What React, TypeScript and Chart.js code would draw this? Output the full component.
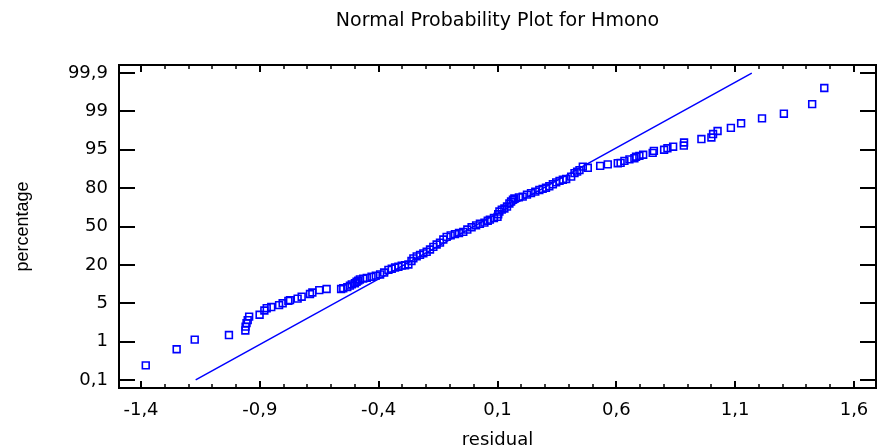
import React, { useEffect, useRef } from 'react';
import { Chart, registerables } from 'chart.js';

Chart.register(...registerables);

const TITLE = 'Normal Probability Plot for Hmono';
const X_LABEL = 'residual';
const Y_LABEL = 'percentage';

const X_TICKS = [-1.4, -0.9, -0.4, 0.1, 0.6, 1.1, 1.6];
const X_MIN = -1.4926;
const X_MAX = 1.6926;

// probability axis: evenly spaced labelled positions 0..8
const Y_TICK_LABELS = ['0,1', '1', '5', '20', '50', '80', '95', '99', '99,9'];
const Y_MIN = -0.21;
const Y_MAX = 8.21;

const RESIDUALS = [
  -1.380, -1.250, -1.174, -1.030, -0.961, -0.960, -0.956, -0.951, -0.945, -0.901,
  -0.881, -0.871, -0.852, -0.819, -0.804, -0.780, -0.773, -0.741, -0.724, -0.689,
  -0.679, -0.650, -0.619, -0.558, -0.549, -0.532, -0.521, -0.513, -0.500, -0.493,
  -0.486, -0.479, -0.465, -0.450, -0.430, -0.412, -0.394, -0.377, -0.359, -0.345,
  -0.331, -0.317, -0.303, -0.289, -0.275, -0.262, -0.254, -0.240, -0.226, -0.212,
  -0.198, -0.184, -0.170, -0.156, -0.142, -0.128, -0.114, -0.097, -0.079, -0.062,
  -0.044, -0.027, -0.009, 0.010, 0.026, 0.045, 0.059, 0.068, 0.085, 0.100,
  0.103, 0.108, 0.118, 0.129, 0.140, 0.150, 0.157, 0.165, 0.171, 0.190,
  0.206, 0.224, 0.241, 0.259, 0.276, 0.290, 0.304, 0.318, 0.333, 0.347,
  0.361, 0.375, 0.389, 0.410, 0.424, 0.435, 0.445, 0.459, 0.480, 0.532,
  0.564, 0.606, 0.618, 0.634, 0.655, 0.676, 0.683, 0.697, 0.713, 0.753,
  0.758, 0.801, 0.815, 0.839, 0.884, 0.885, 0.958, 1.000, 1.007, 1.026,
  1.082, 1.125, 1.213, 1.305, 1.424, 1.475,
];

const PROB_POS = [
  0.38, 0.80, 1.05, 1.17, 1.29, 1.39, 1.48, 1.56, 1.65, 1.70,
  1.81, 1.87, 1.90, 1.95, 2.00, 2.06, 2.08, 2.12, 2.17, 2.24,
  2.28, 2.34, 2.37, 2.37, 2.39, 2.42, 2.46, 2.49, 2.52, 2.56,
  2.59, 2.62, 2.64, 2.66, 2.69, 2.72, 2.75, 2.80, 2.87, 2.90,
  2.93, 2.95, 2.98, 2.99, 3.01, 3.10, 3.17, 3.22, 3.26, 3.30,
  3.34, 3.40, 3.47, 3.53, 3.58, 3.66, 3.73, 3.77, 3.80, 3.83,
  3.86, 3.92, 3.98, 4.03, 4.07, 4.10, 4.15, 4.18, 4.22, 4.25,
  4.32, 4.39, 4.44, 4.47, 4.52, 4.60, 4.65, 4.70, 4.73, 4.76,
  4.78, 4.83, 4.87, 4.91, 4.95, 4.98, 5.01, 5.05, 5.10, 5.15,
  5.19, 5.22, 5.24, 5.30, 5.39, 5.43, 5.47, 5.56, 5.53, 5.58,
  5.62, 5.65, 5.66, 5.71, 5.75, 5.78, 5.82, 5.84, 5.87, 5.92,
  5.97, 6.00, 6.04, 6.08, 6.11, 6.19, 6.28, 6.32, 6.41, 6.49,
  6.57, 6.69, 6.82, 6.94, 7.19, 7.61,
];

const FIT_X = [-1.17, 1.17];
const FIT_Y = [0, 8];

const BLUE = '#0000ff';
const TEXT_FONT = 'DejaVu Sans';

const framePlugin = {
  id: 'frame',
  afterDraw(chart: any) {
    const { ctx, chartArea: a, scales } = chart;
    const xs = scales.x;
    const ys = scales.y;
    ctx.save();
    ctx.strokeStyle = '#000';
    ctx.lineWidth = 2;
    ctx.strokeRect(a.left, a.top, a.right - a.left, a.bottom - a.top);
    const vline = (x: number, len: number, w: number) => {
      ctx.lineWidth = w;
      ctx.beginPath();
      ctx.moveTo(x, a.bottom);
      ctx.lineTo(x, a.bottom - len);
      ctx.moveTo(x, a.top);
      ctx.lineTo(x, a.top + len);
      ctx.stroke();
    };
    X_TICKS.forEach((v, i) => {
      const px = Math.round(xs.getPixelForValue(v));
      vline(px, 7, 2);
      if (i < X_TICKS.length - 1) {
        for (let j = 1; j < 5; j++) {
          const mv = v + (X_TICKS[i + 1] - v) * j / 5;
          vline(Math.round(xs.getPixelForValue(mv)), 4, 1.5);
        }
      }
    });
    Y_TICK_LABELS.forEach((_, i) => {
      const py = Math.round(ys.getPixelForValue(i));
      ctx.lineWidth = 2;
      ctx.beginPath();
      ctx.moveTo(a.left, py);
      ctx.lineTo(a.left + 16, py);
      ctx.moveTo(a.right, py);
      ctx.lineTo(a.right - 16, py);
      ctx.stroke();
    });
    ctx.restore();
  },
};

export default function App() {
  const ref = useRef<HTMLCanvasElement | null>(null);

  useEffect(() => {
    document.body.style.margin = '0';
    document.body.style.overflow = 'hidden';
    const canvas = ref.current;
    if (!canvas) return;
    const chart = new Chart(canvas, {
      type: 'scatter',
      data: {
        datasets: [
          {
            data: FIT_X.map((x, i) => ({ x, y: FIT_Y[i] })),
            showLine: true,
            borderColor: BLUE,
            borderWidth: 1.5,
            pointRadius: 0,
            fill: false,
            order: 2,
          },
          {
            data: RESIDUALS.map((x, i) => ({ x, y: PROB_POS[i] })),
            showLine: false,
            pointStyle: 'rect',
            pointRadius: 4.8,
            pointBorderWidth: 1.6,
            borderColor: BLUE,
            backgroundColor: 'rgba(0,0,0,0)',
            order: 1,
          },
        ],
      } as any,
      options: {
        responsive: false,
        animation: false,
        devicePixelRatio: 1,
        layout: { autoPadding: false, padding: { left: 0, right: 1, top: 0, bottom: 0 } },
        plugins: {
          legend: { display: false },
          tooltip: { enabled: false },
          title: {
            display: true,
            text: TITLE,
            fullSize: false,
            color: '#000',
            font: { family: TEXT_FONT, size: 19, weight: 'normal', lineHeight: 1 },
            padding: { top: 12, bottom: 34 },
          },
        },
        scales: {
          x: {
            type: 'linear',
            min: X_MIN,
            max: X_MAX,
            afterBuildTicks: (s: any) => {
              s.ticks = X_TICKS.map((v) => ({ value: v }));
            },
            afterFit: (s: any) => {
              s.height = 59;
              s.paddingLeft = 0;
              s.paddingRight = 0;
            },
            grid: { display: false, drawTicks: false },
            border: { display: false },
            ticks: {
              color: '#000',
              font: { family: TEXT_FONT, size: 18 },
              padding: 12,
              maxRotation: 0,
              autoSkip: false,
              callback: (v: any) => Number(v).toFixed(1).replace('.', ','),
            },
            title: {
              display: true,
              text: X_LABEL,
              color: '#000',
              font: { family: TEXT_FONT, size: 18, lineHeight: 1 },
              padding: { top: 0, bottom: -2 },
            },
          },
          y: {
            type: 'linear',
            min: Y_MIN,
            max: Y_MAX,
            afterBuildTicks: (s: any) => {
              s.ticks = Y_TICK_LABELS.map((_, i) => ({ value: i }));
            },
            afterFit: (s: any) => {
              s.width = 119;
              s.paddingTop = 0;
              s.paddingBottom = 0;
            },
            grid: { display: false, drawTicks: false },
            border: { display: false },
            ticks: {
              color: '#000',
              font: { family: TEXT_FONT, size: 18 },
              padding: 11,
              autoSkip: false,
              callback: (v: any) => Y_TICK_LABELS[Math.round(Number(v))],
            },
            title: {
              display: true,
              text: Y_LABEL,
              color: '#000',
              font: { family: 'Liberation Sans', size: 18, lineHeight: 1 },
              padding: { top: 14, bottom: 0 },
            },
          },
        },
      } as any,
      plugins: [framePlugin],
    });
    return () => chart.destroy();
  }, []);

  return <canvas ref={ref} width={877} height={447} style={{ display: 'block' }} />;
}
